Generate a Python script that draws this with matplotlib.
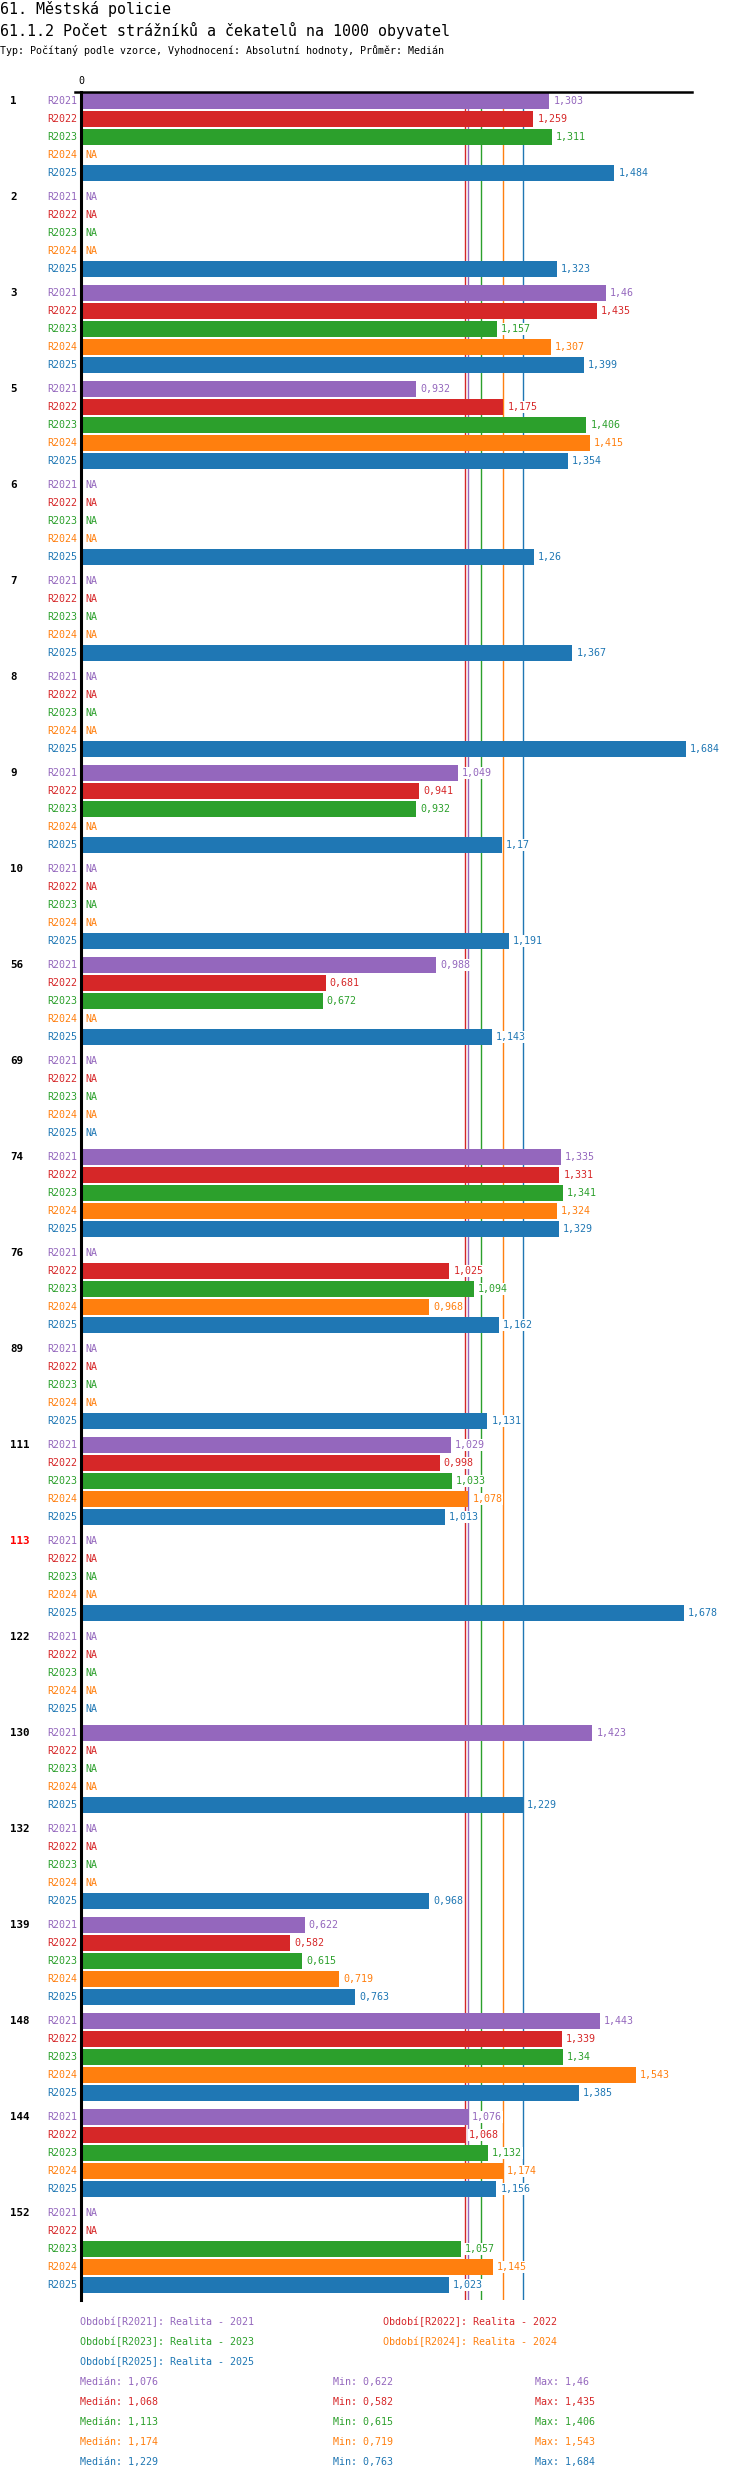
import matplotlib
matplotlib.use('Agg')
import matplotlib.pyplot as plt
import matplotlib.transforms as mtransforms
import numpy as np

plt.rcParams['font.family'] = ['DejaVu Sans Mono', 'DejaVu Sans']

# skupiny (obce) a řady
groups = ['1', '2', '3', '5', '6', '7', '8', '9', '10', '56', '69', '74', '76', '89',
          '111', '113', '122', '130', '132', '139', '148', '144', '152']
highlight = '113'
series = ['R2021', 'R2022', 'R2023', 'R2024', 'R2025']
colors = ['#9467bd', '#d62728', '#2ca02c', '#ff7f0e', '#1f77b4']
NA = None

r2021 = [1.303, NA, 1.46, 0.932, NA, NA, NA, 1.049, NA, 0.988, NA, 1.335, NA, NA,
         1.029, NA, NA, 1.423, NA, 0.622, 1.443, 1.076, NA]
r2022 = [1.259, NA, 1.435, 1.175, NA, NA, NA, 0.941, NA, 0.681, NA, 1.331, 1.025, NA,
         0.998, NA, NA, NA, NA, 0.582, 1.339, 1.068, NA]
r2023 = [1.311, NA, 1.157, 1.406, NA, NA, NA, 0.932, NA, 0.672, NA, 1.341, 1.094, NA,
         1.033, NA, NA, NA, NA, 0.615, 1.34, 1.132, 1.057]
r2024 = [NA, NA, 1.307, 1.415, NA, NA, NA, NA, NA, NA, NA, 1.324, 0.968, NA,
         1.078, NA, NA, NA, NA, 0.719, 1.543, 1.174, 1.145]
r2025 = [1.484, 1.323, 1.399, 1.354, 1.26, 1.367, 1.684, 1.17, 1.191, 1.143, NA, 1.329, 1.162, 1.131,
         1.013, 1.678, NA, 1.229, 0.968, 0.763, 1.385, 1.156, 1.023]
data = [r2021, r2022, r2023, r2024, r2025]

legend_names = ['Období[R2021]: Realita - 2021', 'Období[R2022]: Realita - 2022',
                'Období[R2023]: Realita - 2023', 'Období[R2024]: Realita - 2024',
                'Období[R2025]: Realita - 2025']


def fmt(v):
    return ('%.3f' % v).rstrip('0').rstrip('.').replace('.', ',')


W, H = 750, 2480
fig = plt.figure(figsize=(W / 100, H / 100), dpi=100)

# osa v pixelech
ax_l, ax_r, ax_t, ax_b = 81, 692, 92, 2300
ax = fig.add_axes([ax_l / W, 1 - ax_b / H, (ax_r - ax_l) / W, (ax_b - ax_t) / H])

slot = 18.0
gpitch = 96.0 / slot
n = len(groups)
ax.set_xlim(0, 1.7)
ax.set_ylim(gpitch * (n - 1) + 4 + 15 / slot, -0.5)
ax.axis('off')

fs = 7.2
lab_tr = mtransforms.offset_copy(ax.transData, fig, x=-4, y=0, units='dots')
na_tr = mtransforms.offset_copy(ax.transData, fig, x=4, y=0, units='dots')
val_tr = mtransforms.offset_copy(ax.transData, fig, x=4, y=0, units='dots')
grp_tr = mtransforms.blended_transform_factory(fig.transFigure, ax.transData)

for gi, g in enumerate(groups):
    base = gi * gpitch
    ax.text(10 / W, base, g, transform=grp_tr, ha='left', va='center',
            fontsize=7.8, fontweight='bold',
            color='#ff0000' if g == highlight else 'black')
    for si in range(len(series)):
        y = base + si
        v = data[si][gi]
        ax.text(0, y, series[si], transform=lab_tr, ha='right', va='center',
                fontsize=fs, color=colors[si])
        if v is None:
            ax.text(0, y, 'NA', transform=na_tr, ha='left', va='center',
                    fontsize=fs, color=colors[si], zorder=4)
        else:
            ax.barh(y, v, height=0.87, color=colors[si], zorder=3)
            ax.text(v, y, fmt(v), transform=val_tr, ha='left', va='center',
                    fontsize=fs, color=colors[si], zorder=4,
                    bbox=dict(facecolor='white', edgecolor='none', pad=0.6))

# mediány
stats = []
for si in range(len(series)):
    vals = np.array([v for v in data[si] if v is not None])
    med = np.median(vals)
    stats.append((med, vals.min(), vals.max()))
    ax.axvline(med, color=colors[si], lw=1, zorder=1)

# osy
ax.plot([-6 / 359.7, 1.7], [-0.5, -0.5], color='black', lw=1.8, clip_on=False, zorder=5)
ax.plot([0, 0], [-0.5, ax.get_ylim()[0]], color='black', lw=2.2, clip_on=False, zorder=5)
ax.text(0, -0.5, '0', transform=mtransforms.offset_copy(ax.transData, fig, x=0, y=6, units='dots'),
        ha='center', va='bottom', fontsize=fs)

# nadpisy
fig.text(0, 1 - 9 / H, '61. Městská policie', fontsize=10.8, va='center', ha='left')
fig.text(0, 1 - 30 / H, '61.1.2 Počet strážníků a čekatelů na 1000 obyvatel',
         fontsize=10.8, va='center', ha='left')
fig.text(0, 1 - 51 / H, 'Typ: Počítaný podle vzorce, Vyhodnocení: Absolutní hodnoty, Průměr: Medián',
         fontsize=fs, va='center', ha='left')

# legenda
leg_pos = [(80, 2322), (383, 2322), (80, 2342), (383, 2342), (80, 2362)]
for si, (x, y) in enumerate(leg_pos):
    fig.text(x / W, 1 - y / H, legend_names[si], fontsize=fs, color=colors[si],
             va='center', ha='left')
for si, (med, mn, mx) in enumerate(stats):
    y = 1 - (2382 + 20 * si) / H
    fig.text(80 / W, y, 'Medián: ' + fmt(med), fontsize=fs, color=colors[si], va='center')
    fig.text(333 / W, y, 'Min: ' + fmt(mn), fontsize=fs, color=colors[si], va='center')
    fig.text(535 / W, y, 'Max: ' + fmt(mx), fontsize=fs, color=colors[si], va='center')

fig.savefig('out.png', dpi=100)
